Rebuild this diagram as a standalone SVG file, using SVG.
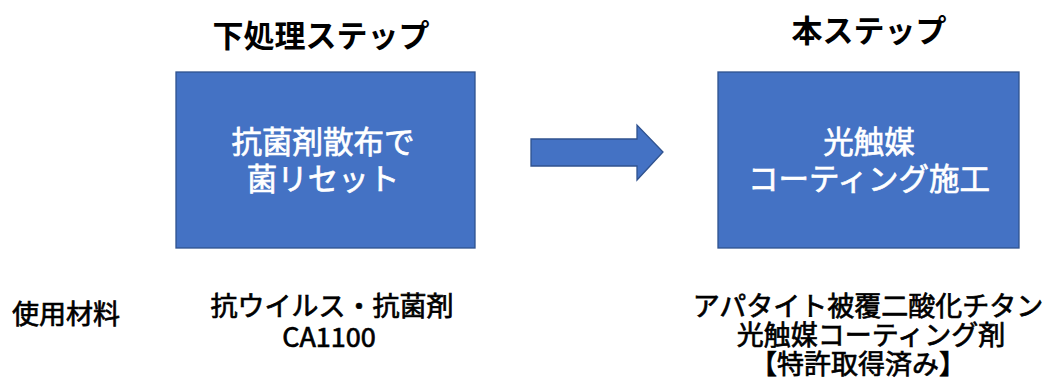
<svg xmlns="http://www.w3.org/2000/svg" width="1047" height="380" viewBox="0 0 1047 380">
<style>
text{font-family:"Noto Sans CJK JP","Noto Sans",sans-serif;text-anchor:middle}
.title{font-size:31px;font-weight:700;fill:#000}
.box{fill:#4472C4;stroke:#2F528F;stroke-width:1.3}
.inner{font-size:30.5px;font-weight:400;fill:#fff;stroke:#fff;stroke-width:0.7}
.label{font-size:27px;font-weight:400;fill:#000;stroke:#000;stroke-width:0.7}
</style>
<rect width="1047" height="380" fill="#fff"/>
<g id="title-pre"><text class="title" x="321" y="47">下処理ステップ</text></g>
<g id="title-main"><text class="title" x="869" y="42">本ステップ</text></g>
<g id="node-pre">
<rect class="box" x="176" y="72" width="299" height="176"/>
<text class="inner" x="323" y="153">抗菌剤散布で</text>
<text class="inner" x="323" y="190">菌リセット</text>
</g>
<g id="node-main">
<rect class="box" x="718" y="72" width="301" height="176"/>
<text class="inner" x="869" y="153">光触媒</text>
<text class="inner" x="869" y="190">コーティング施工</text>
</g>
<g id="connectors">
<path class="box" d="M531,139 H637 V125 L663,152 L637,180 V166 H531 Z"/>
</g>
<g id="label-materials"><text class="label" x="66" y="324">使用材料</text></g>
<g id="material-pre">
<text class="label" x="332" y="316">抗ウイルス・抗菌剤</text>
<text class="label" x="329" y="347">CA1100</text>
</g>
<g id="material-main">
<text class="label" x="868" y="316">アパタイト被覆二酸化チタン</text>
<text class="label" x="871" y="345">光触媒コーティング剤</text>
<text class="label" x="858" y="374">【特許取得済み】</text>
</g>
</svg>
